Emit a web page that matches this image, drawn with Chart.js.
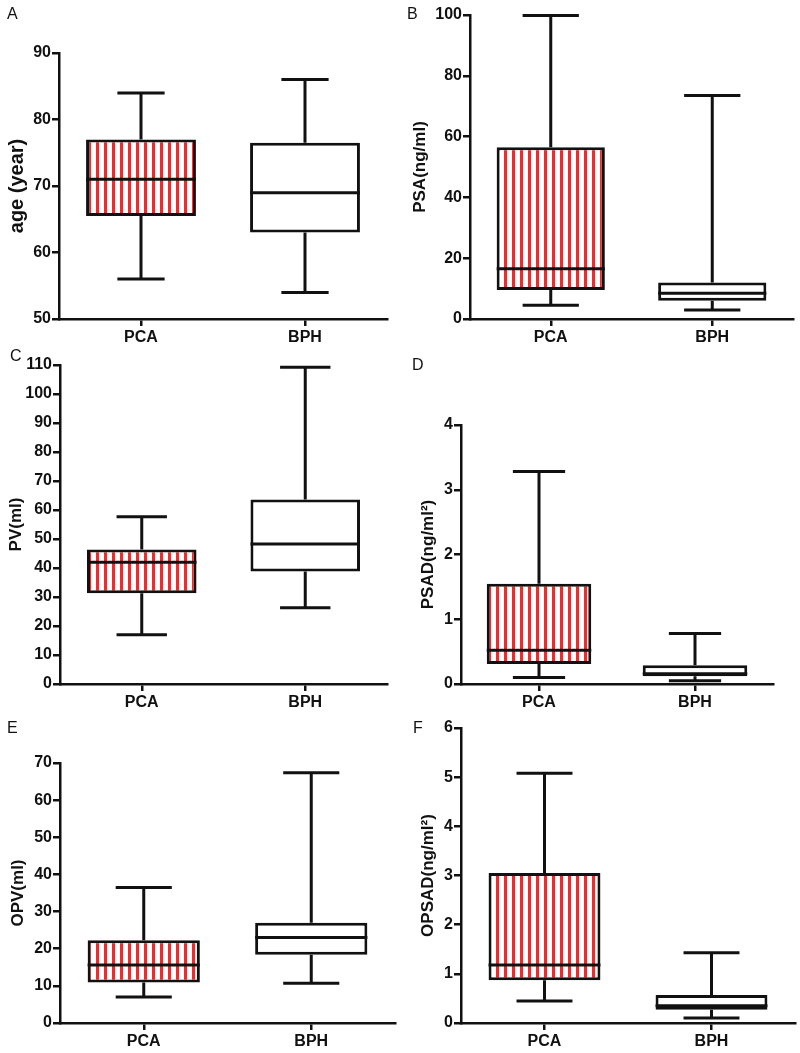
<!DOCTYPE html>
<html>
<head>
<meta charset="utf-8">
<script src="https://cdn.jsdelivr.net/npm/chart.js@4"></script>
<style>
  body { margin: 0; background: #fff; }
  #page { position: relative; width: 800px; height: 1053px; }
  .panel { position: absolute; }
  .tag { position: absolute; font: 16px 'Liberation Sans', Arial, sans-serif; line-height: 16px; color: #111; }
</style>
</head>
<body>
<div id="page"></div>
<script>
// ── Data: each row is one group, [min, q1, median, q3, max] ─────
const groups    = ['PCA', 'BPH'];
const ageStats  = [[56, 65.5, 71, 77, 84],     [54, 63, 69, 76.5, 86]];
const psaStats  = [[4.5, 9.5, 16.5, 56.5, 99.8], [3, 6, 8.5, 12, 73.5]];
const pvStats   = [[17, 31.3, 42, 46.4, 57.7],  [26.3, 38.8, 48.3, 63.6, 109.2]];
const psadStats = [[0.1, 0.31, 0.52, 1.55, 3.28], [0.05, 0.12, 0.16, 0.29, 0.78]];
const opvStats  = [[7, 10.9, 15.6, 22.3, 36.5], [10.7, 18.4, 23, 27, 67.4]];
const opsadStats = [[0.45, 0.87, 1.18, 3.05, 5.08], [0.1, 0.27, 0.35, 0.57, 1.43]];

// y-axis ranges
const ageAxis   = [50, 90, 10];
const psaAxis   = [0, 100, 20];
const pvAxis    = [0, 110, 10];
const psadAxis  = [0, 4, 1];
const opvAxis   = [0, 70, 10];
const opsadAxis = [0, 6, 1];

// ── Styling ───────────────────────────────────────────────────
const INK  = '#111';
const RED  = '#e03232';
const FONT = "'Liberation Sans', Arial, sans-serif";

// red / white vertical stripes for the PCA box
const stripe = (() => {
  const c = document.createElement('canvas');
  c.width = 8; c.height = 4;
  const g = c.getContext('2d');
  g.fillStyle = '#fff'; g.fillRect(0, 0, 8, 4);
  g.fillStyle = RED;    g.fillRect(0, 0, 3, 4);
  return g.createPattern(c, 'repeat');
})();

// ── Whiskers + median, drawn from stats through the y scale ───
const boxPlugin = {
  id: 'boxWhisker',
  afterDatasetsDraw(chart, args, opts) {
    const { ctx } = chart;
    const y = chart.scales.y;
    const meta = chart.getDatasetMeta(0);
    ctx.save();
    ctx.strokeStyle = INK;
    ctx.lineWidth = 3;
    ctx.lineCap = 'butt';
    opts.stats.forEach((s, i) => {
      const bar = meta.data[i];
      const cx = bar.x, half = bar.width / 2, cap = bar.width * opts.cap / 2;
      const [mn, q1, md, q3, mx] = s.map(v => y.getPixelForValue(v));
      ctx.beginPath();
      ctx.moveTo(cx, q3); ctx.lineTo(cx, mx);
      ctx.moveTo(cx - cap, mx); ctx.lineTo(cx + cap, mx);
      ctx.moveTo(cx, q1); ctx.lineTo(cx, mn);
      ctx.moveTo(cx - cap, mn); ctx.lineTo(cx + cap, mn);
      ctx.moveTo(cx - half, md); ctx.lineTo(cx + half, md);
      ctx.stroke();
    });
    ctx.restore();
  }
};

// ── Panel geometry (page pixels) ──────────────────────────────
const panels = [
  { tag: 'A', tagX: 7,   tagY: 6,   box: [0, 0, 400, 345],     axisX: 59,  top: 53,  bottom: 319,  right: 387,
    title: 'age (year)', titleSize: 20, titlePad: 5, stats: ageStats, axis: ageAxis, cap: 0.43 },
  { tag: 'B', tagX: 407, tagY: 6,   box: [400, 0, 400, 345],   axisX: 470, top: 15,  bottom: 319,  right: 793,
    title: 'PSA(ng/ml)', titleSize: 17, titlePad: 10, stats: psaStats, axis: psaAxis, cap: 0.52 },
  { tag: 'C', tagX: 10,  tagY: 348, box: [0, 345, 400, 365],   axisX: 60,  top: 365, bottom: 684,  right: 387,
    title: 'PV(ml)', titleSize: 17, titlePad: 6, stats: pvStats, axis: pvAxis, cap: 0.46 },
  { tag: 'D', tagX: 412, tagY: 357, box: [400, 345, 400, 365], axisX: 461, top: 425, bottom: 684,  right: 773,
    title: 'PSAD(ng/ml²)', titleSize: 17, titlePad: 18, stats: psadStats, axis: psadAxis, cap: 0.5 },
  { tag: 'E', tagX: 7,   tagY: 720, box: [0, 710, 400, 343],   axisX: 60,  top: 763, bottom: 1023, right: 395,
    title: 'OPV(ml)', titleSize: 17, titlePad: 8, stats: opvStats, axis: opvAxis, cap: 0.5 },
  { tag: 'F', tagX: 413, tagY: 720, box: [400, 710, 400, 343], axisX: 461, top: 728, bottom: 1023, right: 795,
    title: 'OPSAD(ng/ml²)', titleSize: 17, titlePad: 18, stats: opsadStats, axis: opsadAxis, cap: 0.5 }
];

const page = document.getElementById('page');

panels.forEach(p => {
  const [bx, by, bw, bh] = p.box;

  const div = document.createElement('div');
  div.className = 'panel';
  Object.assign(div.style, { left: bx + 'px', top: by + 'px', width: bw + 'px', height: bh + 'px' });
  const canvas = document.createElement('canvas');
  div.appendChild(canvas);
  page.appendChild(div);

  const tag = document.createElement('div');
  tag.className = 'tag';
  tag.textContent = p.tag;
  Object.assign(tag.style, { left: p.tagX + 'px', top: p.tagY + 'px' });
  page.appendChild(tag);

  new Chart(canvas, {
    type: 'bar',
    data: {
      labels: groups,
      datasets: [{
        data:            p.stats.map(s => [s[1], s[3]]),
        backgroundColor: [stripe, '#fff'],
        borderColor:     INK,
        borderWidth:     3,
        borderSkipped:   false,
        barPercentage:   0.67,
        categoryPercentage: 1
      }]
    },
    options: {
      responsive: true,
      maintainAspectRatio: false,
      animation: false,
      events: [],
      layout: { padding: { top: p.top - by, right: bx + bw - p.right, left: 0, bottom: 0 } },
      plugins: {
        legend:  { display: false },
        tooltip: { enabled: false },
        boxWhisker: { stats: p.stats, cap: p.cap }
      },
      scales: {
        x: {
          offset: true,
          afterFit: (s) => { s.height = by + bh - p.bottom; },
          border: { display: true, color: INK, width: 2.5 },
          grid: { offset: false, drawOnChartArea: false, drawTicks: true, tickLength: 7, color: INK, lineWidth: 2.5 },
          ticks: { color: INK, padding: 2, font: { family: FONT, size: 16, weight: 'bold' } }
        },
        y: {
          min: p.axis[0],
          max: p.axis[1],
          afterFit: (s) => { s.width = p.axisX - bx; },
          border: { display: true, color: INK, width: 2.5 },
          grid: { drawOnChartArea: false, drawTicks: true, tickLength: 7, color: INK, lineWidth: 2.5 },
          ticks: { stepSize: p.axis[2], color: INK, padding: 1, font: { family: FONT, size: 16, weight: 'bold' } },
          title: {
            display: true,
            text: p.title,
            color: INK,
            padding: { top: p.titlePad, bottom: 0 },
            font: { family: FONT, size: p.titleSize, weight: 'bold' }
          }
        }
      }
    },
    plugins: [boxPlugin]
  });
});
</script>
</body>
</html>
